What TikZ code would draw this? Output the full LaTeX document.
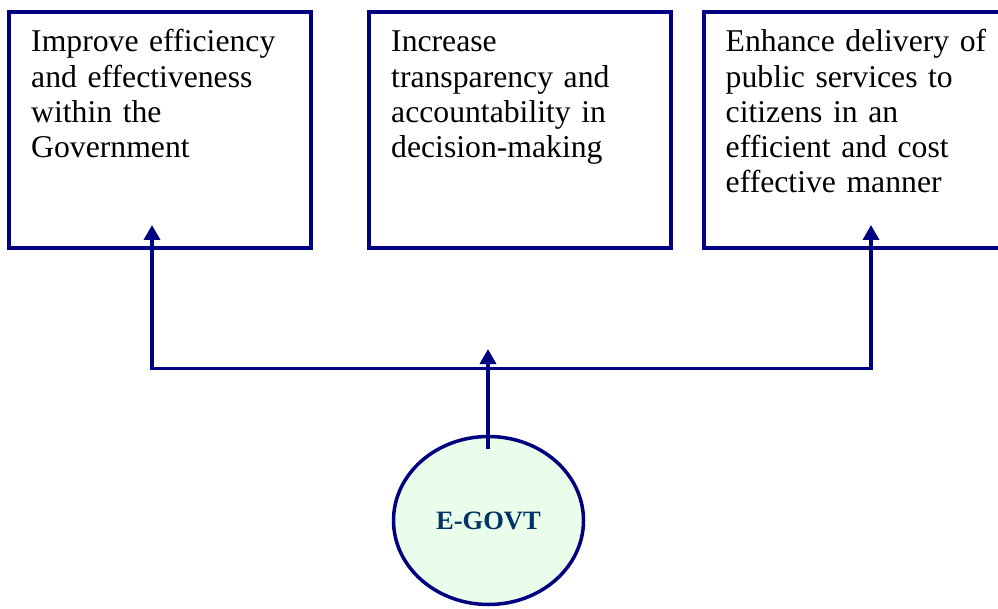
\documentclass[tikz,border=0pt]{standalone}
\usepackage{fontspec}
\setmainfont{Liberation Serif}
\usetikzlibrary{shapes.geometric,arrows.meta}
\definecolor{navyline}{RGB}{0,0,128}
\definecolor{egfill}{RGB}{234,252,234}
\definecolor{egtext}{RGB}{0,51,102}
\begin{document}
\begin{tikzpicture}[x=1pt,y=-1pt,
  goalbox/.style={draw=navyline, line width=3.5pt, minimum width=302pt, minimum height=236pt, inner sep=0pt, outer sep=0pt, anchor=north west},
  goaltext/.style={anchor=base west, inner sep=0pt, text width=290pt, align=left, font=\fontsize{31.7pt}{35.2pt}\selectfont},
  conn/.style={draw=navyline, line width=3.5pt, line join=miter, line cap=butt},
  tiphead/.style={-{Triangle[length=15pt,width=16pt]}},
  twoheads/.style={{Triangle[length=15pt,width=16pt]}-{Triangle[length=15pt,width=16pt]}}
]
\useasboundingbox (0,0) rectangle (998,609);
\clip (0,0) rectangle (998,609);
\fill[white] (0,0) rectangle (998,609);

\node[goalbox] (b1) at (9,12) {};
\node[goalbox] (b2) at (369,12) {};
\node[goalbox] (b3) at (704,12) {};

\node[goaltext] (t1) at ([shift={(22,40)}]b1.north west) {Improve efficiency\\and effectiveness\\within the\\Government};
\node[goaltext] (t2) at ([shift={(22,40)}]b2.north west) {Increase\\transparency and\\accountability in\\decision-making};
\node[goaltext] (t3) at ([shift={(21.5,40)}]b3.north west) {Enhance delivery of\\public services to\\citizens in an\\efficient and cost\\effective manner};

\node[ellipse, draw=navyline, fill=egfill, line width=3.5pt, minimum width=190pt, minimum height=168pt, inner sep=0pt, outer sep=0pt, text=egtext, font=\bfseries\fontsize{26.5pt}{30pt}\selectfont] (eg) at (488.5,520.5) {E-GOVT};

\coordinate (jl) at (152,368.5);
\coordinate (jr) at (871,368.5);
\coordinate (tl) at (152,225);
\coordinate (tr) at (871,225);
\coordinate (ms) at (488,449);
\coordinate (tm) at (488,349);

\draw[conn, twoheads] (tl) -- (jl) -- (jr) -- (tr);
\draw[conn, tiphead] (ms) -- (tm);
\end{tikzpicture}
\end{document}
